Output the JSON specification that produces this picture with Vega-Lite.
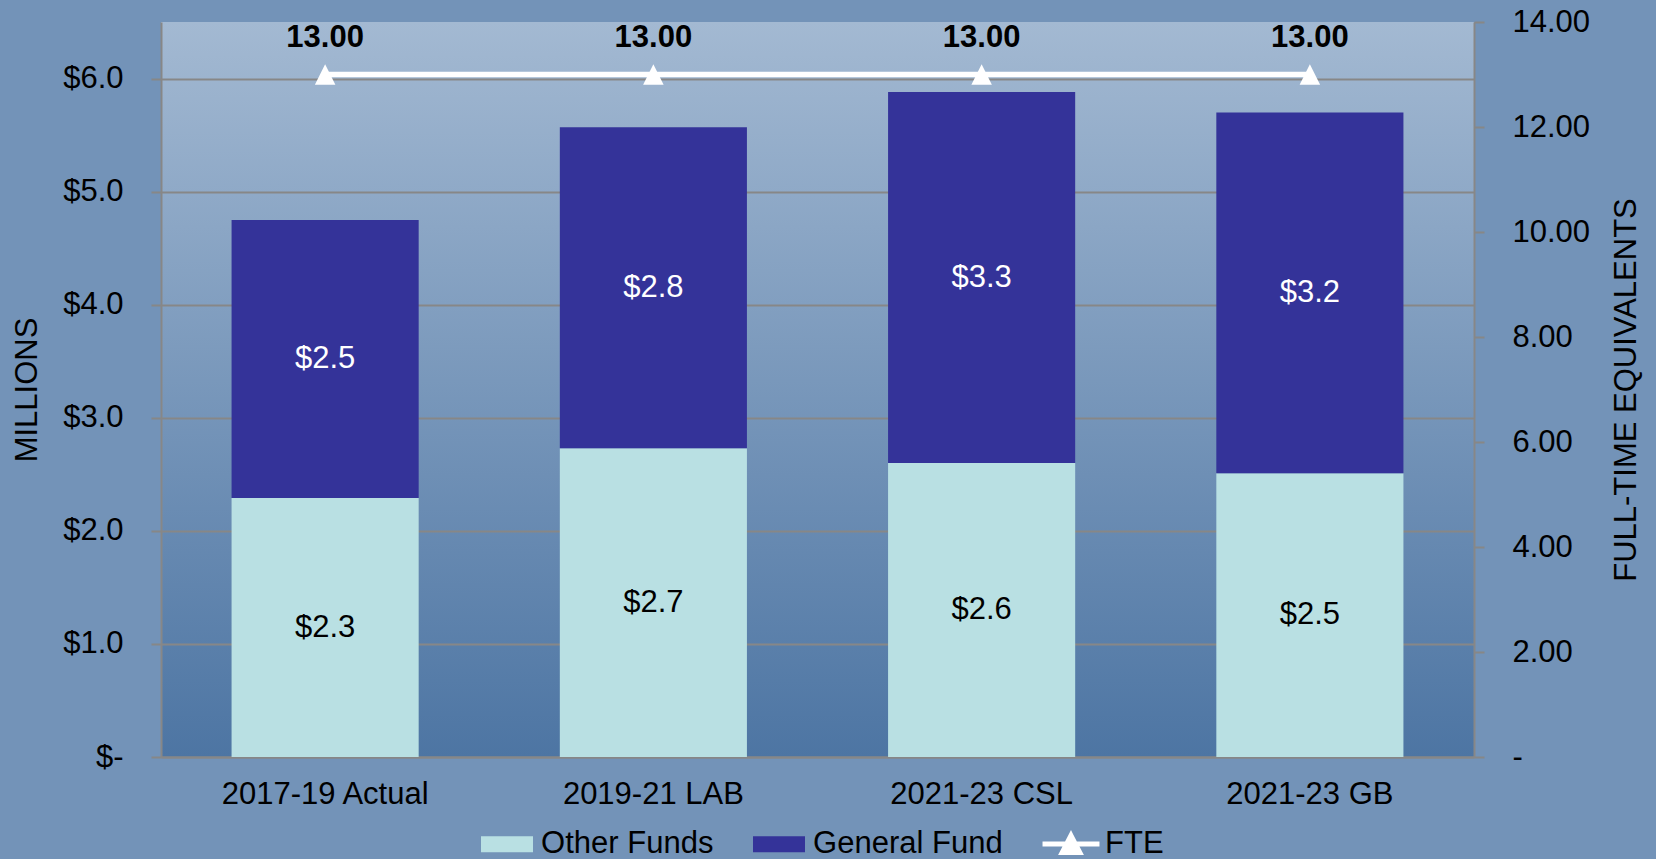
{
  "$schema": "https://vega.github.io/schema/vega-lite/v6.json",
  "width": 1313,
  "height": 735,
  "autosize": {"type": "none"},
  "padding": {"left": 161, "top": 22, "right": 182, "bottom": 102},
  "background": "#7393b8",
  "config": {
    "font": "Liberation Sans",
    "view": {
      "stroke": null,
      "fill": {"gradient": "linear", "x1": 0, "y1": 0, "x2": 0, "y2": 1, "stops": [{"offset": 0, "color": "#a3b9d2"}, {"offset": 1, "color": "#4d75a3"}]}
    },
    "axis": {
      "labelFont": "Liberation Sans",
      "labelFontSize": 31,
      "labelColor": "#000000",
      "labelLimit": 500,
      "titleFont": "Liberation Sans",
      "titleFontSize": 31,
      "titleFontWeight": "normal",
      "titleColor": "#000000",
      "domainColor": "#878787",
      "domainWidth": 2,
      "tickColor": "#878787",
      "tickWidth": 2,
      "gridColor": "#878787",
      "gridWidth": 2
    }
  },
  "datasets": {
    "funds": [
      {"period": "2017-19 Actual", "fund": "Other Funds", "value": 2.29},
      {"period": "2017-19 Actual", "fund": "General Fund", "value": 2.46},
      {"period": "2019-21 LAB", "fund": "Other Funds", "value": 2.73},
      {"period": "2019-21 LAB", "fund": "General Fund", "value": 2.84},
      {"period": "2021-23 CSL", "fund": "Other Funds", "value": 2.60},
      {"period": "2021-23 CSL", "fund": "General Fund", "value": 3.28},
      {"period": "2021-23 GB", "fund": "Other Funds", "value": 2.51},
      {"period": "2021-23 GB", "fund": "General Fund", "value": 3.19}
    ],
    "fte": [
      {"period": "2017-19 Actual", "fte": 13},
      {"period": "2019-21 LAB", "fte": 13},
      {"period": "2021-23 CSL", "fte": 13},
      {"period": "2021-23 GB", "fte": 13}
    ]
  },
  "encoding": {
    "x": {
      "field": "period",
      "type": "nominal",
      "sort": ["2017-19 Actual", "2019-21 LAB", "2021-23 CSL", "2021-23 GB"],
      "scale": {"paddingInner": 0.43, "paddingOuter": 0.215},
      "axis": {"title": null, "labelAngle": 0, "ticks": false, "tickSize": 0, "labelPadding": 22, "grid": false, "labelLimit": 500}
    }
  },
  "layer": [
    {
      "data": {"name": "funds"},
      "transform": [
        {"stack": "value", "groupby": ["period"], "sort": [{"field": "fund", "order": "descending"}], "as": ["lo", "hi"]}
      ],
      "layer": [
        {
          "mark": {"type": "bar"},
          "encoding": {
            "y": {
              "field": "lo",
              "type": "quantitative",
              "scale": {"domain": [0, 6.5], "nice": false, "zero": true},
              "axis": {
                "orient": "left",
                "title": "MILLIONS",
                "values": [0, 1, 2, 3, 4, 5, 6],
                "labelExpr": "datum.value === 0 ? '$-' : '$' + format(datum.value, '.1f')",
                "tickSize": 10,
                "labelPadding": 28,
                "grid": true,
                "titlePadding": 19,
                "titleBaseline": "bottom"
              }
            },
            "y2": {"field": "hi"},
            "color": {
              "field": "fund",
              "type": "nominal",
              "scale": {"domain": ["Other Funds", "General Fund", "FTE"], "range": ["#b9e0e3", "#343399", "#ffffff"]},
              "legend": {
                "orient": "none",
                "legendX": 327.5,
                "legendY": 803.5,
                "direction": "horizontal",
                "title": null,
                "padding": 0,
                "labelFont": "Liberation Sans",
                "labelFontSize": 31,
                "labelColor": "#000000",
                "labelLimit": 500,
                "labelOffset": 15.6,
                "columnPadding": 29,
                "symbolSize": 1024,
                "symbolType": "M-1.625,-0.5H1.625V0.5H-1.625Z",
                "encode": {
                  "symbols": {
                    "update": {
                      "shape": {"signal": "datum.value === 'FTE' ? 'M-1.78,0H1.78M0,-0.53L0.55,0.53L-0.55,0.53Z' : 'M-1.625,-0.5H1.625V0.5H-1.625Z'"},
                      "stroke": {"signal": "datum.value === 'FTE' ? '#ffffff' : 'transparent'"},
                      "strokeWidth": {"value": 5}
                    }
                  }
                }
              }
            }
          }
        },
        {
          "transform": [
            {"fold": ["lo", "hi"], "as": ["k", "v"]},
            {"aggregate": [{"op": "mean", "field": "v", "as": "mid"}], "groupby": ["period", "fund", "value"]}
          ],
          "mark": {"type": "text", "fontSize": 31, "baseline": "middle", "font": "Liberation Sans"},
          "encoding": {
            "y": {
              "field": "mid",
              "type": "quantitative",
              "scale": {"domain": [0, 6.5], "nice": false, "zero": true},
              "axis": {
                "orient": "left",
                "title": "MILLIONS",
                "values": [0, 1, 2, 3, 4, 5, 6],
                "labelExpr": "datum.value === 0 ? '$-' : '$' + format(datum.value, '.1f')",
                "tickSize": 10,
                "labelPadding": 28,
                "grid": true,
                "titlePadding": 19,
                "titleBaseline": "bottom"
              }
            },
            "text": {"field": "value", "type": "quantitative", "format": "$.1f"},
            "color": {"condition": {"test": "datum.fund === 'General Fund'", "value": "#ffffff"}, "value": "#000000"}
          }
        }
      ]
    },
    {
      "data": {"name": "fte"},
      "layer": [
        {
          "mark": {
            "type": "line",
            "color": "#ffffff",
            "strokeWidth": 5.5,
            "point": {"shape": "M0,-1L1,1L-1,1Z", "size": 420, "filled": true, "color": "#ffffff", "strokeWidth": 0}
          },
          "encoding": {
            "y": {
              "field": "fte",
              "type": "quantitative",
              "scale": {"domain": [0, 14], "nice": false},
              "axis": {
                "orient": "right",
                "title": "FULL-TIME EQUIVALENTS",
                "values": [0, 2, 4, 6, 8, 10, 12, 14],
                "labelExpr": "datum.value === 0 ? '-' : format(datum.value, '.2f')",
                "tickSize": 10,
                "labelPadding": 28,
                "grid": false,
                "titleAngle": -90,
                "titleBaseline": "top",
                "titlePadding": 22
              }
            }
          }
        },
        {
          "mark": {"type": "text", "fontSize": 31, "fontWeight": "bold", "baseline": "middle", "dy": -37, "color": "#000000", "font": "Liberation Sans"},
          "encoding": {
            "y": {
              "field": "fte",
              "type": "quantitative",
              "scale": {"domain": [0, 14], "nice": false},
              "axis": {
                "orient": "right",
                "title": "FULL-TIME EQUIVALENTS",
                "values": [0, 2, 4, 6, 8, 10, 12, 14],
                "labelExpr": "datum.value === 0 ? '-' : format(datum.value, '.2f')",
                "tickSize": 10,
                "labelPadding": 28,
                "grid": false,
                "titleAngle": -90,
                "titleBaseline": "top",
                "titlePadding": 22
              }
            },
            "text": {"field": "fte", "type": "quantitative", "format": ".2f"}
          }
        }
      ]
    }
  ],
  "resolve": {"scale": {"y": "independent"}}
}
